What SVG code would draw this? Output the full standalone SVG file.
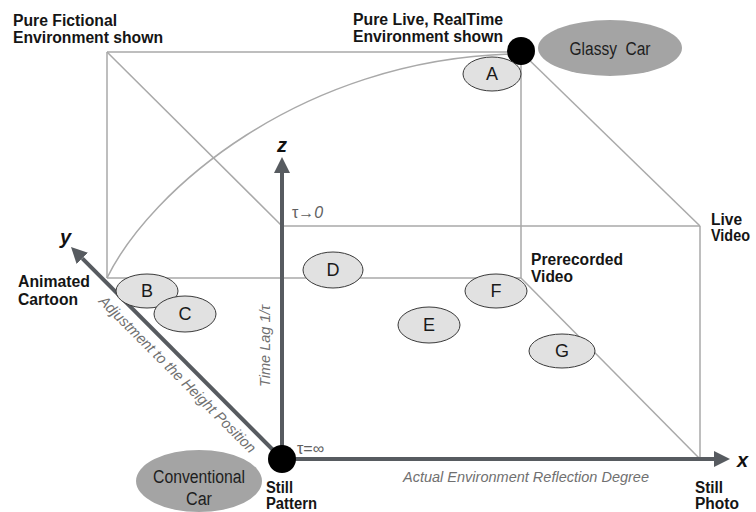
<svg xmlns="http://www.w3.org/2000/svg" width="756" height="512" viewBox="0 0 756 512">
  <defs>
    <style>
      .edge { fill: none; stroke: #a9a9a9; stroke-width: 1.5; }
      .axis { fill: none; stroke: #575b60; stroke-width: 4; }
      .lbl { font-family: "Liberation Sans", Arial, sans-serif; font-weight: bold; font-size: 16px; fill: #151515; }
      .axlbl { font-family: "Liberation Sans", Arial, sans-serif; font-weight: bold; font-style: italic; font-size: 20px; fill: #111; }
      .note { font-family: "Liberation Sans", Arial, sans-serif; font-style: italic; font-size: 15px; fill: #707070; }
      .tau { font-family: "Liberation Sans", Arial, sans-serif; font-size: 16px; fill: #606060; }
      .pt ellipse { fill: #e1e1e1; stroke: #3a3a3a; stroke-width: 1; }
      .pt text { font-family: "Liberation Sans", Arial, sans-serif; font-size: 18px; fill: #1a1a1a; text-anchor: middle; }
      .car ellipse { fill: #a4a4a4; }
      .car text { font-family: "Liberation Sans", Arial, sans-serif; font-size: 18px; fill: #1e1e1e; text-anchor: middle; }
      .dot { fill: #000; }
    </style>
    <marker id="arrow" viewBox="0 0 16 16" markerWidth="16" markerHeight="16" refX="0" refY="8" orient="auto" markerUnits="userSpaceOnUse">
      <path d="M0,0 L16,8 L0,16 z" fill="#575b60"/>
    </marker>
  </defs>

  <!-- cube edges and connectors -->
  <g id="connectors">
    <path class="edge" d="M107,52 H521"/>
    <path class="edge" d="M107,52 V278"/>
    <path class="edge" d="M521,52 V278"/>
    <path class="edge" d="M107,278 H521"/>
    <path class="edge" d="M282,226 H700"/>
    <path class="edge" d="M700,226 V459"/>
    <path class="edge" d="M107,52 L282,226"/>
    <path class="edge" d="M521,52 L700,226"/>
    <path class="edge" d="M521,278 L699,458"/>
    <path class="edge" d="M107,278 C150,190 300,60 512,54"/>

    <!-- axes -->
    <line class="axis" x1="282" y1="459" x2="714" y2="459" marker-end="url(#arrow)"/>
    <line class="axis" x1="282" y1="459" x2="282" y2="173" marker-end="url(#arrow)"/>
    <line class="axis" x1="282" y1="459" x2="82.3" y2="258.3" marker-end="url(#arrow)"/>
  </g>

  <!-- axis names and captions -->
  <g id="axis-labels">
    <text class="axlbl" x="737" y="467">x</text>
    <text class="axlbl" x="60" y="244">y</text>
    <text class="axlbl" x="277" y="152">z</text>
    <text class="note" x="403" y="482" textLength="246" lengthAdjust="spacingAndGlyphs">Actual Environment Reflection Degree</text>
    <text class="note" transform="translate(98,302) rotate(45)" x="0" y="0" textLength="215" lengthAdjust="spacingAndGlyphs">Adjustment to the Height Position</text>
    <text class="note" transform="translate(270,387) rotate(-90)" x="0" y="0" textLength="82" lengthAdjust="spacingAndGlyphs">Time Lag 1/τ</text>
    <text class="tau" x="292" y="218">τ→<tspan font-style="italic">0</tspan></text>
    <text class="tau" x="297" y="454">τ=∞</text>
  </g>

  <!-- corner labels -->
  <g id="pure-fictional">
    <text class="lbl" x="13" y="26" textLength="104" lengthAdjust="spacingAndGlyphs">Pure Fictional</text>
    <text class="lbl" x="13" y="43" textLength="150" lengthAdjust="spacingAndGlyphs">Environment shown</text>
  </g>
  <g id="pure-live">
    <text class="lbl" x="353" y="25" textLength="150" lengthAdjust="spacingAndGlyphs">Pure Live, RealTime</text>
    <text class="lbl" x="353" y="42" textLength="150" lengthAdjust="spacingAndGlyphs">Environment shown</text>
    <circle class="dot" cx="521" cy="51" r="14"/>
  </g>
  <g id="animated-cartoon">
    <text class="lbl" x="18" y="287" textLength="72" lengthAdjust="spacingAndGlyphs">Animated</text>
    <text class="lbl" x="18" y="305" textLength="60" lengthAdjust="spacingAndGlyphs">Cartoon</text>
  </g>
  <g id="live-video">
    <text class="lbl" x="711" y="225" textLength="31" lengthAdjust="spacingAndGlyphs">Live</text>
    <text class="lbl" x="711" y="241" textLength="39" lengthAdjust="spacingAndGlyphs">Video</text>
  </g>
  <g id="prerecorded-video">
    <text class="lbl" x="531" y="265" textLength="92" lengthAdjust="spacingAndGlyphs">Prerecorded</text>
    <text class="lbl" x="531" y="282" textLength="42" lengthAdjust="spacingAndGlyphs">Video</text>
  </g>
  <g id="still-photo">
    <text class="lbl" x="695" y="493" textLength="28" lengthAdjust="spacingAndGlyphs">Still</text>
    <text class="lbl" x="695" y="509" textLength="44" lengthAdjust="spacingAndGlyphs">Photo</text>
  </g>
  <g id="still-pattern">
    <circle class="dot" cx="282" cy="459" r="14"/>
    <text class="lbl" x="266" y="493" textLength="27" lengthAdjust="spacingAndGlyphs">Still</text>
    <text class="lbl" x="266" y="509" textLength="51" lengthAdjust="spacingAndGlyphs">Pattern</text>
  </g>

  <!-- cars -->
  <g id="glassy-car" class="car">
    <ellipse cx="610" cy="48" rx="72" ry="28"/>
    <text x="610" y="55" xml:space="preserve" textLength="81" lengthAdjust="spacingAndGlyphs">Glassy  Car</text>
  </g>
  <g id="conventional-car" class="car">
    <ellipse cx="199" cy="481" rx="63" ry="31"/>
    <text x="199" y="483" textLength="92" lengthAdjust="spacingAndGlyphs">Conventional</text>
    <text x="199" y="505" textLength="26" lengthAdjust="spacingAndGlyphs">Car</text>
  </g>

  <!-- sample points -->
  <g id="point-a" class="pt"><ellipse cx="492" cy="74" rx="29" ry="17"/><text x="492" y="80">A</text></g>
  <g id="point-b" class="pt"><ellipse cx="147" cy="291" rx="31" ry="17"/><text x="147" y="297">B</text></g>
  <g id="point-c" class="pt"><ellipse cx="185" cy="314" rx="31" ry="18"/><text x="185" y="320">C</text></g>
  <g id="point-d" class="pt"><ellipse cx="333" cy="270" rx="30" ry="18"/><text x="333" y="276">D</text></g>
  <g id="point-e" class="pt"><ellipse cx="429" cy="325" rx="31" ry="18"/><text x="429" y="331">E</text></g>
  <g id="point-f" class="pt"><ellipse cx="496" cy="291" rx="31" ry="17"/><text x="496" y="297">F</text></g>
  <g id="point-g" class="pt"><ellipse cx="562" cy="351" rx="33" ry="17"/><text x="562" y="357">G</text></g>
</svg>
